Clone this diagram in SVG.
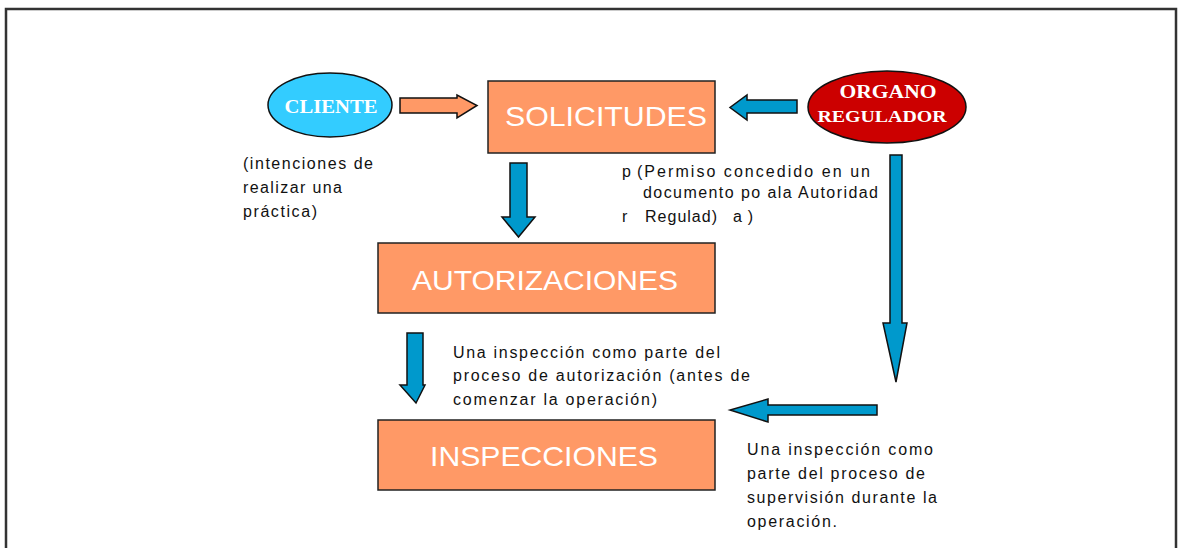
<svg xmlns="http://www.w3.org/2000/svg" width="1184" height="548" viewBox="0 0 1184 548">
<style>
.box{fill:#FF9966;stroke:#222;stroke-width:1.5}
.boxt{fill:#fff;font-family:"Liberation Sans",Arial,sans-serif;font-size:28px}
.ell{font-family:"Liberation Serif","Times New Roman",serif;font-weight:bold;fill:#fff}
.txt{font-family:"Liberation Sans",Arial,sans-serif;font-size:16px;fill:#111}
.blue{fill:#0099CC;stroke:#111;stroke-width:1.5;stroke-linejoin:miter}
.orange{fill:#FF9966;stroke:#111;stroke-width:1.5}
</style>
<rect width="1184" height="548" fill="#fff"/>
<rect x="6" y="9" width="1170" height="560" fill="none" stroke="#333" stroke-width="2.5"/>

<g id="cliente">
<ellipse cx="330" cy="105" rx="62" ry="32" fill="#33CCFF" stroke="#111" stroke-width="1.5"/>
<text class="ell" x="331" y="113" font-size="18" text-anchor="middle" textLength="93" lengthAdjust="spacingAndGlyphs">CLIENTE</text>
</g>
<g id="organo">
<ellipse cx="887" cy="107" rx="79" ry="36" fill="#CC0000" stroke="#111" stroke-width="1.5"/>
<text class="ell" x="888" y="98" font-size="18" text-anchor="middle" textLength="97" lengthAdjust="spacingAndGlyphs">ORGANO</text>
<text class="ell" x="882" y="122" font-size="16" text-anchor="middle" textLength="129" lengthAdjust="spacingAndGlyphs">REGULADOR</text>
</g>
<g id="solicitudes">
<rect class="box" x="488" y="81" width="227" height="72"/>
<text class="boxt" x="505" y="126" textLength="202" lengthAdjust="spacingAndGlyphs">SOLICITUDES</text>
</g>
<g id="autorizaciones">
<rect class="box" x="378" y="243" width="337" height="70"/>
<text class="boxt" x="412" y="290" textLength="266" lengthAdjust="spacingAndGlyphs">AUTORIZACIONES</text>
</g>
<g id="inspecciones">
<rect class="box" x="378" y="420" width="337" height="70"/>
<text class="boxt" x="430" y="466" textLength="228" lengthAdjust="spacingAndGlyphs">INSPECCIONES</text>
</g>

<g id="connectors">
<polygon class="orange" points="400,98 457,98 457,95 477,105.5 457,118 457,113 400,113"/>
<polygon class="blue" points="797,100 747,100 747,95 730,107.5 747,120 747,113 797,113"/>
<polygon class="blue" points="510,163 527,163 527,217 535,217 518.5,237 502,217 510,217"/>
<polygon class="blue" points="407,333 423,333 423,385 425,385 416,403 400,385 407,385"/>
<polygon class="blue" points="890,155 902,155 902,323 907,323 896,382 883,323 890,323"/>
<polygon class="blue" points="877,405 877,415 768,415 768,422 730,410 768,399 768,405"/>
</g>

<g id="labels">
<text class="txt" x="243" y="169" textLength="130">(intenciones de</text>
<text class="txt" x="243" y="193" textLength="99">realizar una</text>
<text class="txt" x="243" y="217" textLength="74">práctica)</text>

<text class="txt" x="622" y="177">p</text>
<text class="txt" x="637" y="177" textLength="233">(Permiso concedido en un</text>
<text class="txt" x="643" y="198" textLength="235">documento po ala Autoridad</text>
<text class="txt" x="622" y="222">r</text>
<text class="txt" x="645" y="222" textLength="72">Regulad)</text>
<text class="txt" x="733" y="222" textLength="20">a)</text>

<text class="txt" x="453" y="358" textLength="267">Una inspección como parte del</text>
<text class="txt" x="453" y="381" textLength="297">proceso de autorización (antes de</text>
<text class="txt" x="453" y="405" textLength="204">comenzar la operación)</text>

<text class="txt" x="747" y="455" textLength="186">Una inspección como</text>
<text class="txt" x="747" y="479" textLength="178">parte del proceso de</text>
<text class="txt" x="747" y="503" textLength="190">supervisión durante la</text>
<text class="txt" x="747" y="527" textLength="90">operación.</text>
</g>
</svg>
